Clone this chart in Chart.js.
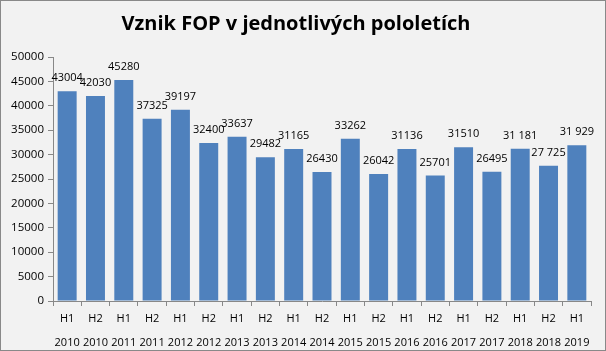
<!DOCTYPE html>
<html>
<head>
<meta charset="utf-8">
<script src="https://cdn.jsdelivr.net/npm/chart.js@4/dist/chart.umd.min.js"></script>
<style>
  html, body { margin: 0; padding: 0; background: #fff; }
  #box { width: 606px; height: 351px; box-sizing: border-box; border: 1px solid #898989; background: #f2f2f2; }
</style>
</head>
<body>
<div id="box"><canvas id="chart" width="604" height="349"></canvas></div>
<script>
// half-years and counts
const halves = ['H1', 'H2', 'H1', 'H2', 'H1', 'H2', 'H1', 'H2', 'H1', 'H2', 'H1', 'H2', 'H1', 'H2', 'H1', 'H2', 'H1', 'H2', 'H1'];
const years = ['2010', '2010', '2011', '2011', '2012', '2012', '2013', '2013', '2014', '2014', '2015', '2015', '2016', '2016', '2017', '2017', '2018', '2018', '2019'];
const counts = [43004, 42030, 45280, 37325, 39197, 32400, 33637, 29482, 31165, 26430, 33262, 26042, 31136, 25701, 31510, 26495, 31181, 27725, 31929];
// labels as printed (last ones have thousand spaces)
const valueLabels = ['43004', '42030', '45280', '37325', '39197', '32400', '33637', '29482', '31165', '26430', '33262', '26042', '31136', '25701', '31510', '26495', '31 181', '27 725', '31 929'];

const fontFamily = '"Open Sans", "DejaVu Sans", sans-serif';

// draws the numbers above the bars
const barLabels = {
  id: 'barLabels',
  afterDatasetsDraw(chart) {
    const ctx = chart.ctx;
    const meta = chart.getDatasetMeta(0);
    ctx.save();
    ctx.font = '11px ' + fontFamily;
    ctx.fillStyle = '#000';
    ctx.textAlign = 'center';
    ctx.textBaseline = 'middle';
    meta.data.forEach((bar, i) => {
      ctx.fillText(valueLabels[i], bar.x, bar.y - 13);
    });
    ctx.restore();
  }
};

new Chart(document.getElementById('chart'), {
  type: 'bar',
  data: {
    labels: halves.map((h, i) => [h, years[i]]),
    datasets: [{
      data: counts,
      backgroundColor: '#4f81bd',
      barPercentage: 0.67,
      categoryPercentage: 1
    }]
  },
  options: {
    responsive: false,
    animation: false,
    layout: { padding: { left: 0, right: 14, top: 0, bottom: 0 } },
    plugins: {
      legend: { display: false },
      tooltip: { enabled: false },
      title: {
        display: true,
        text: 'Vznik FOP v jednotlivých pololetích',
        color: '#000',
        font: { family: fontFamily, size: 20, weight: 'bold' },
        padding: { top: 11, bottom: 21 }
      }
    },
    scales: {
      x: {
        grid: { drawOnChartArea: false, offset: true, color: '#888', tickLength: 5 },
        border: { color: '#888' },
        ticks: { color: '#000', font: { family: fontFamily, size: 11, lineHeight: 2.15 }, maxRotation: 0, autoSkip: false, padding: 1 },
        afterFit(scale) { scale.height = 49; }
      },
      y: {
        min: 0,
        max: 50000,
        grid: { drawOnChartArea: false, color: '#888', tickLength: 5 },
        border: { color: '#888' },
        ticks: { stepSize: 5000, color: '#000', font: { family: fontFamily, size: 11.5 }, padding: 4, callback: v => String(v) },
        afterFit(scale) { scale.width = 52; }
      }
    }
  },
  plugins: [barLabels]
});
</script>
</body>
</html>
